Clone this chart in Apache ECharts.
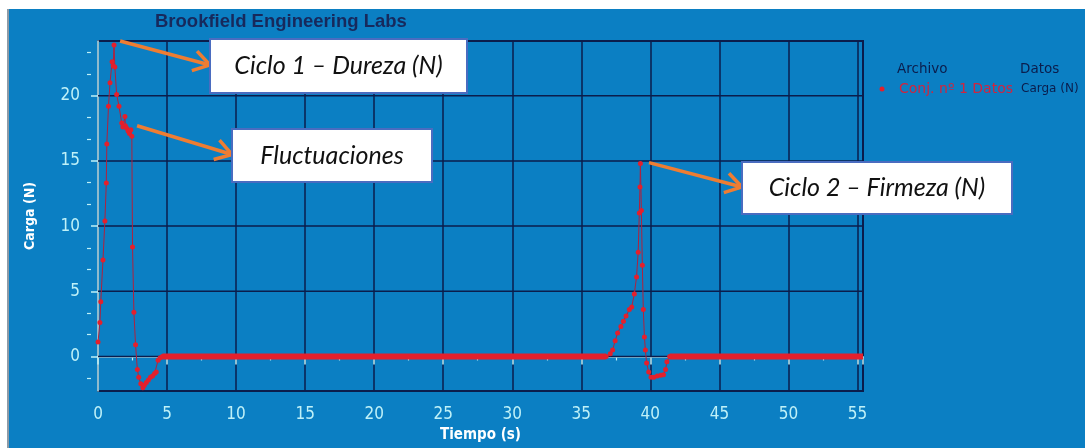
<!DOCTYPE html>
<html>
<head>
<meta charset="utf-8">
<script src="https://cdn.jsdelivr.net/npm/echarts@6/dist/echarts.min.js"></script>
<style>
  html, body { margin: 0; padding: 0; background: #ffffff; }
  #panel { position: absolute; left: 7px; top: 9px; width: 1078px; height: 439px;
           background: #0b7fc3; border-left: 2px solid #8d9aa6; box-sizing: border-box; }
  #chart { position: absolute; left: 0; top: 0; width: 1085px; height: 448px; }
</style>
</head>
<body>
<div id="panel"></div>
<div id="chart"></div>
<script>
// Compression test, cycle 1 (first bite): time (s) and load (N)
const tiempoCiclo1 = [0, 0.14, 0.2, 0.36, 0.5, 0.6, 0.64, 0.76, 0.87, 1.02, 1.1, 1.16, 1.22, 1.35, 1.52,
  1.72, 1.8, 1.95, 1.98, 2.08, 2.18, 2.28, 2.38, 2.45, 2.5, 2.6, 2.72, 2.85, 2.95, 3.1, 3.25, 3.35,
  3.5, 3.65, 3.8, 3.95, 4.1, 4.22, 4.35, 4.5, 4.66];
const cargaCiclo1 = [1.1, 2.6, 4.2, 7.4, 10.4, 13.3, 16.3, 19.2, 21.0, 22.6, 22.3, 23.9, 22.2, 20.1, 19.2,
  17.9, 17.6, 18.4, 17.7, 17.5, 17.3, 17.1, 17.4, 16.9, 8.4, 3.4, 0.9, -1.0, -1.6, -2.1, -2.4, -2.2,
  -2.0, -1.8, -1.6, -1.5, -1.3, -1.2, -0.3, -0.1, 0];

// Cycle 2 (second bite)
const tiempoCiclo2 = [36.8, 37.1, 37.27, 37.45, 37.63, 37.87, 38.05, 38.24, 38.48, 38.65, 38.84, 39.0,
  39.12, 39.2, 39.25, 39.28, 39.35, 39.42, 39.49, 39.57, 39.64, 39.73, 39.88, 40.05, 40.25, 40.5,
  40.75, 40.95, 41.1, 41.2, 41.4];
const cargaCiclo2 = [0, 0.2, 0.5, 1.2, 1.8, 2.3, 2.7, 3.1, 3.6, 3.8, 4.8, 6.1,
  8.0, 11.0, 13.0, 14.8, 11.2, 7.0, 3.6, 1.5, 0.5, -0.5, -1.2, -1.6, -1.6, -1.5,
  -1.45, -1.4, -1.0, -0.4, 0];

// Probe at rest between and after the cycles (constant 0 N)
const tiempoReposo1 = [4.66, 36.8];
const cargaReposo1 = [0, 0];
const tiempoReposo2 = [41.4, 55.4];
const cargaReposo2 = [0, 0];

// Axis ranges and ticks
const xRange = [0, 55.4];
const yRange = [-2.65, 24.2];
const xTicks = [0, 5, 10, 15, 20, 25, 30, 35, 40, 45, 50, 55];
const yMajorTicks = [0, 5, 10, 15, 20];
const yMinorTicks = [-1.667, 1.667, 3.333, 6.667, 8.333, 11.667, 13.333, 16.667, 18.333, 21.667, 23.333];

// Annotations: label, arrow tail (data coords)
const notas = ['Ciclo 1 – Dureza (N)', 'Fluctuaciones', 'Ciclo 2 – Firmeza (N)'];
const notasOrigen = [[1.6, 24.2], [2.83, 17.7], [39.9, 14.87]];

const zip = (a, b) => a.map((v, i) => [v, b[i]]);

const NAVY = '#0b1d4c';
const CYAN = '#bff1f8';
const RED = '#e3202c';
const NARROW = "'Liberation Sans Narrow','DejaVu Sans Condensed','Liberation Sans',sans-serif";
const LEGEND_FAMILY = "'DejaVu Sans', 'Liberation Sans', sans-serif";

const chart = echarts.init(document.getElementById('chart'), null, { renderer: 'canvas' });

const ejeY = {
  type: 'value', min: yRange[0], max: yRange[1], offset: 7, position: 'left',
  name: 'Carga (N)', nameLocation: 'middle', nameGap: 54, nameRotate: 90,
  nameTextStyle: { color: '#ffffff', fontWeight: 'bold', fontSize: 14, fontFamily: NARROW },
  axisLine: { show: true, lineStyle: { color: CYAN, width: 1.5 } },
  axisTick: { show: true, customValues: yMajorTicks.slice(), length: 7, lineStyle: { color: CYAN, width: 1.5 } },
  axisLabel: { customValues: yMajorTicks.slice(), color: CYAN, fontSize: 17, fontFamily: NARROW, margin: 11 },
  splitLine: { show: false }
};

const ejeYMenor = {
  type: 'value', min: yRange[0], max: yRange[1], offset: 7, position: 'left',
  axisLine: { show: false },
  axisTick: { show: true, customValues: yMinorTicks.slice(), length: 4, lineStyle: { color: CYAN, width: 1.2 } },
  axisLabel: { show: false },
  splitLine: { show: false }
};

// horizontal grid lines at the labelled load values, drawn as plain line series
const rejillaY = yMajorTicks.map((v, i) => ({
  id: 'rejilla' + i, name: 'rejilla ' + v, type: 'line', xAxisIndex: 0, yAxisIndex: 0,
  data: [[xRange[0], v], [xRange[1], v]], symbol: 'none', z: 4,
  lineStyle: { color: NAVY, width: 1.5, opacity: 1 }
}));

chart.setOption({
  animation: false,
  grid: {
    left: 98, top: 41, right: 222, bottom: 56,
    show: true, backgroundColor: 'transparent', borderColor: NAVY, borderWidth: 2
  },
  xAxis: {
    type: 'value', min: xRange[0], max: xRange[1], interval: 5, offset: 6,
    name: 'Tiempo (s)', nameLocation: 'middle', nameGap: 31,
    nameTextStyle: { color: '#ffffff', fontWeight: 'bold', fontSize: 15, fontFamily: NARROW },
    axisLine: { show: true, lineStyle: { color: CYAN, width: 1.5 } },
    axisTick: { show: true, length: 8, lineStyle: { color: CYAN, width: 1.5 } },
    minorTick: { show: true, splitNumber: 2, length: 4, lineStyle: { color: CYAN, width: 1.2 } },
    axisLabel: { color: CYAN, fontSize: 17, fontFamily: NARROW, margin: 9, showMaxLabel: false,
      formatter: v => (xTicks.indexOf(v) >= 0 ? String(v) : '') },
    splitLine: { show: true, lineStyle: { color: NAVY, width: 1.5 } }
  },
  yAxis: [ejeY, ejeYMenor],
  series: rejillaY.concat([
    { name: 'Reposo 1', type: 'line', data: zip(tiempoReposo1, cargaReposo1), symbol: 'none',
      lineStyle: { color: RED, width: 6 }, z: 5 },
    { name: 'Reposo 2', type: 'line', data: zip(tiempoReposo2, cargaReposo2), symbol: 'none',
      lineStyle: { color: RED, width: 6 }, z: 5 },
    { name: 'Conj. nº 1 Datos', type: 'line', data: zip(tiempoCiclo1, cargaCiclo1),
      symbol: 'circle', symbolSize: 5, showAllSymbol: true,
      itemStyle: { color: RED }, lineStyle: { color: '#b1213d', width: 1 }, z: 6 },
    { name: 'Conj. nº 1 Datos (2)', type: 'line', data: zip(tiempoCiclo2, cargaCiclo2),
      symbol: 'circle', symbolSize: 5, showAllSymbol: true,
      itemStyle: { color: RED }, lineStyle: { color: '#b1213d', width: 1 }, z: 6 }
  ])
});

// Header and legend table
const graficos = [
  { type: 'text', x: 155, y: 22, z: 10,
    style: { text: 'Brookfield Engineering Labs', fill: '#17295c', verticalAlign: 'middle',
      font: 'bold 18.5px "Liberation Sans", Arial, sans-serif' } },
  { type: 'text', x: 897, y: 69, z: 10,
    style: { text: 'Archivo', fill: NAVY, font: '13.5px ' + LEGEND_FAMILY, verticalAlign: 'middle' } },
  { type: 'text', x: 1020, y: 69, z: 10,
    style: { text: 'Datos', fill: NAVY, font: '13.5px ' + LEGEND_FAMILY, verticalAlign: 'middle' } },
  { type: 'circle', shape: { cx: 882, cy: 89, r: 2.5 }, style: { fill: RED }, z: 10 },
  { type: 'text', x: 899, y: 89, z: 10,
    style: { text: 'Conj. nº 1 Datos', fill: '#d2243e', font: '14px ' + LEGEND_FAMILY, verticalAlign: 'middle' } },
  { type: 'text', x: 1021, y: 89, z: 10,
    style: { text: 'Carga (N)', fill: NAVY, font: '12px ' + LEGEND_FAMILY, verticalAlign: 'middle' } }
];

// Annotation boxes with arrows from the data
const cajas = [[210, 39, 257, 54], [232, 129, 200, 53], [742, 162, 270, 52]];
cajas.forEach((c, i) => {
  graficos.push({ type: 'rect', z: 20, shape: { x: c[0], y: c[1], width: c[2], height: c[3] },
    style: { fill: '#ffffff', stroke: '#4a6cc0', lineWidth: 2 } });
  graficos.push({ type: 'text', z: 21, x: c[0] + c[2] / 2, y: c[1] + c[3] / 2,
    style: { text: notas[i], fill: '#111111', font: 'italic 25px Lato, "Open Sans", sans-serif',
      align: 'center', verticalAlign: 'middle' } });
  const p = chart.convertToPixel({ xAxisIndex: 0, yAxisIndex: 0 }, notasOrigen[i]);
  const tip = [c[0], c[1] + c[3] / 2 - 1];
  const ang = Math.atan2(tip[1] - p[1], tip[0] - p[0]);
  const L = 19, a = 32 * Math.PI / 180;
  const arm1 = [tip[0] - L * Math.cos(ang - a), tip[1] - L * Math.sin(ang - a)];
  const arm2 = [tip[0] - L * Math.cos(ang + a), tip[1] - L * Math.sin(ang + a)];
  graficos.push({ type: 'polyline', z: 19, shape: { points: [p, tip] },
    style: { stroke: '#ee7d32', lineWidth: 3.5, fill: null } });
  graficos.push({ type: 'polyline', z: 19, shape: { points: [arm1, tip, arm2] },
    style: { stroke: '#ee7d32', lineWidth: 3.5, fill: null, lineJoin: 'miter' } });
});

chart.setOption({ graphic: graficos });
</script>
</body>
</html>
